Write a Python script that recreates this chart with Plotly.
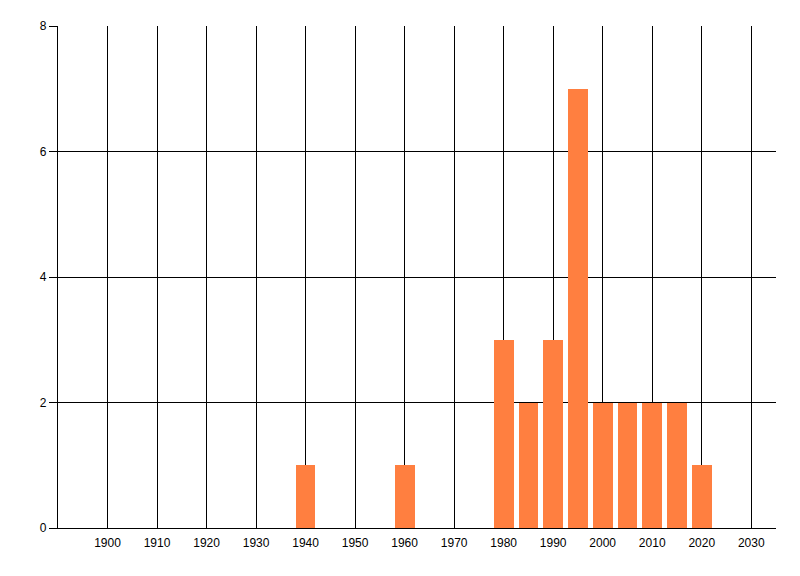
import plotly.graph_objects as go

# Datos del histograma
years = [1940, 1960, 1980, 1985, 1990, 1995, 2000, 2005, 2010, 2015, 2020]
counts = [1, 1, 3, 2, 3, 7, 2, 2, 2, 2, 1]
x_ticks = list(range(1900, 2031, 10))
y_ticks = [0, 2, 4, 6, 8]

fig = go.Figure()

fig.add_trace(go.Bar(
    x=years,
    y=counts,
    width=4,
    marker=dict(color="#FF7F40", line=dict(width=0)),
    showlegend=False,
))

# la página tiene 8px de margen en el body, se compensa aquí
fig.update_layout(
    width=800,
    height=576,
    margin=dict(l=50, r=32, t=18, b=56, autoexpand=False),
    plot_bgcolor="white",
    paper_bgcolor="white",
    font=dict(family="Liberation Sans, Arial, sans-serif", size=12, color="black"),
    bargap=0,
)

fig.update_xaxes(
    range=[1890, 2035],
    tickvals=x_ticks,
    ticktext=[str(t) for t in x_ticks],
    showgrid=True,
    gridcolor="black",
    gridwidth=1,
    showline=True,
    linecolor="black",
    linewidth=1.2,
    ticks="",
    ticklabelstandoff=3,
    zeroline=False,
    automargin=False,
)

fig.update_yaxes(
    range=[0, 8],
    tickvals=y_ticks,
    showgrid=True,
    gridcolor="black",
    gridwidth=1,
    showline=True,
    linecolor="black",
    linewidth=1.2,
    ticks="outside",
    ticklen=8,
    tickcolor="black",
    tickwidth=1.2,
    zeroline=False,
    automargin=False,
)

fig.write_html("out.html")
